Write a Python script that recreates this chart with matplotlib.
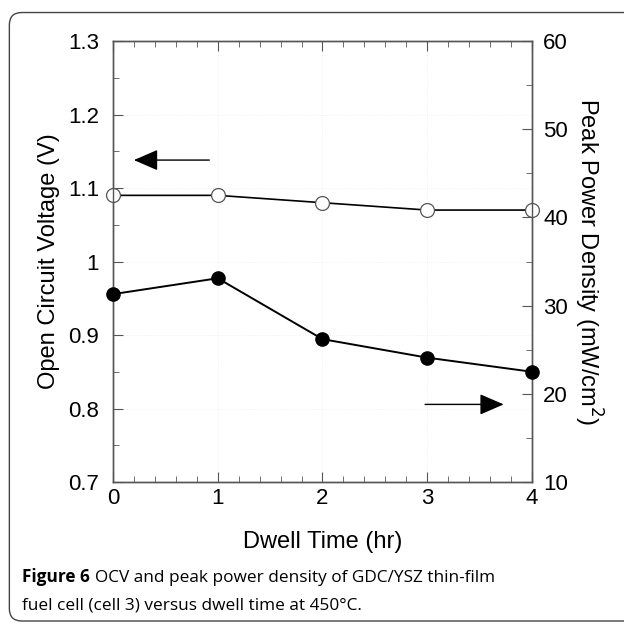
import matplotlib.pyplot as plt
from matplotlib.patches import FancyBboxPatch
from matplotlib.ticker import MultipleLocator

plt.rcParams['font.family'] = ['Liberation Sans', 'DejaVu Sans']

dwell = [0, 1, 2, 3, 4]
ocv = [1.09, 1.09, 1.08, 1.07, 1.07]
ppd = [31.3, 33.1, 26.2, 24.1, 22.5]

fig = plt.figure(figsize=(6.24, 6.26), dpi=100)
ax = fig.add_axes([0.181, 0.230, 0.6715, 0.7045])
ax2 = ax.twinx()

ax.plot(dwell, ocv, '-', color='black', lw=1.2, marker='o', ms=10,
        mfc='white', mec='#555555', mew=0.9, clip_on=False, zorder=3)
ax2.plot(dwell, ppd, '-', color='black', lw=1.4, marker='o', ms=9.5,
         mfc='black', mec='black', clip_on=False, zorder=3)

ax.set_xlim(0, 4)
ax.set_ylim(0.7, 1.3)
ax2.set_ylim(10, 60)

ax.xaxis.set_major_locator(MultipleLocator(1))
ax.xaxis.set_minor_locator(MultipleLocator(0.2))
ax.yaxis.set_minor_locator(MultipleLocator(0.05))
ax2.yaxis.set_major_locator(MultipleLocator(10))
ax2.yaxis.set_minor_locator(MultipleLocator(5))
ax.set_yticks([0.7, 0.8, 0.9, 1.0, 1.1, 1.2, 1.3])
ax.set_yticklabels(['0.7', '0.8', '0.9', '1', '1.1', '1.2', '1.3'])

for a in (ax, ax2):
    for s in a.spines.values():
        s.set_color('#555555')
        s.set_linewidth(1.0)
ax.tick_params(axis='x', which='both', direction='in', top=True, color='#555555',
               labelsize=16, pad=4)
ax.tick_params(axis='x', which='major', length=7)
ax.tick_params(axis='x', which='minor', length=4)
ax.tick_params(axis='y', which='both', direction='in', right=False, color='#555555',
               labelsize=16, pad=10)
ax.tick_params(axis='y', which='major', length=7)
ax.tick_params(axis='y', which='minor', length=4)
ax2.tick_params(axis='y', which='both', direction='in', color='#555555',
                labelsize=16, pad=8)
ax2.tick_params(axis='y', which='major', length=7)
ax2.tick_params(axis='y', which='minor', length=4)

ax.grid(True, which='major', color='#eeeeee', lw=0.6, ls=':')

ax.set_xlabel('Dwell Time (hr)', fontsize=17, labelpad=16)
ax.set_ylabel('Open Circuit Voltage (V)', fontsize=17, labelpad=6)
ax2.set_ylabel('Peak Power Density (mW/cm$^2$)', fontsize=17, rotation=-90, labelpad=26)

# direction arrows
ax.annotate('', xy=(0.2, 1.138), xytext=(0.92, 1.138),
            arrowprops=dict(arrowstyle='-|>,head_length=1.5,head_width=0.65',
                            color='black', lw=1.0, shrinkA=0, shrinkB=0))
ax2.annotate('', xy=(3.73, 18.8), xytext=(2.98, 18.8),
             arrowprops=dict(arrowstyle='-|>,head_length=1.5,head_width=0.65',
                             color='black', lw=1.0, shrinkA=0, shrinkB=0))

# caption
cap_font = ['Open Sans', 'DejaVu Sans']
t1 = fig.text(0.036, 0.070, 'Figure 6', fontsize=12.4, family=cap_font,
              weight='bold', va='baseline')
fig.canvas.draw()
bb = t1.get_window_extent().transformed(fig.transFigure.inverted())
fig.text(bb.x1 + 0.008, 0.070, 'OCV and peak power density of GDC/YSZ thin-film',
         fontsize=12.4, family=cap_font, va='baseline')
fig.text(0.036, 0.026, 'fuel cell (cell 3) versus dwell time at 450\u00b0C.',
         fontsize=12.4, family=cap_font, va='baseline')

box = FancyBboxPatch((0.015, 0.008), 1.02, 0.972,
                     boxstyle='round,pad=0,rounding_size=0.02',
                     transform=fig.transFigure, edgecolor='#444444',
                     facecolor='none', lw=1.0)
fig.patches.append(box)

fig.savefig('out.png', dpi=100)
